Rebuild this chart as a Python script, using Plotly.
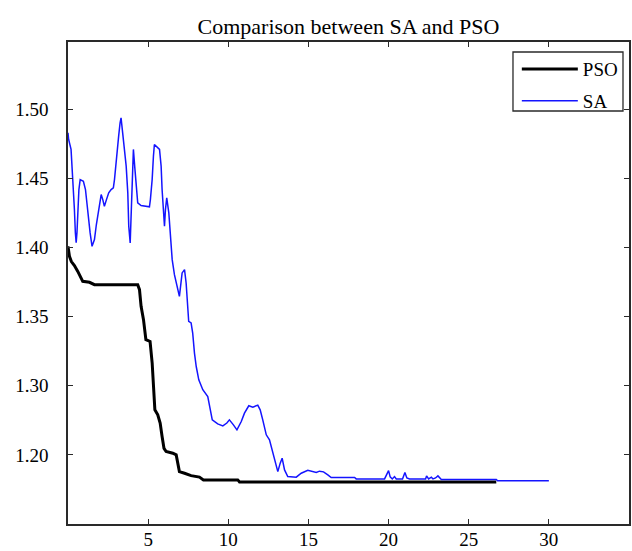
import plotly.graph_objects as go

# PSO curve (best fitness vs. iteration scale)
pso_x = [0.00, 0.09, 0.21, 0.40, 0.61, 0.77, 0.92, 1.34, 1.65, 4.35, 4.46, 4.56, 4.71, 4.86,
         5.12, 5.25, 5.33, 5.42, 5.60, 5.75, 5.87, 5.99, 6.12, 6.54, 6.75, 6.85, 6.95, 7.27,
         7.68, 8.20, 8.45, 10.59, 10.70, 26.72]
pso_y = [1.4008, 1.3936, 1.3898, 1.3869, 1.3827, 1.3789, 1.3755, 1.3748, 1.3731, 1.3731,
         1.3695, 1.3574, 1.3478, 1.3333, 1.3320, 1.3166, 1.2995, 1.2826, 1.2790, 1.2730,
         1.2633, 1.2547, 1.2524, 1.2512, 1.2500, 1.2440, 1.2379, 1.2367, 1.2350, 1.2339,
         1.2319, 1.2319, 1.2304, 1.2304]

# SA curve
sa_x = [0.00, 0.04, 0.19, 0.26, 0.34, 0.40, 0.46, 0.51, 0.56, 0.61, 0.68, 0.76, 0.96, 1.09,
        1.23, 1.38, 1.50, 1.65, 1.77, 1.92, 2.07, 2.17, 2.27, 2.40, 2.54, 2.69, 2.83, 2.90,
        3.04, 3.16, 3.25, 3.31, 3.41, 3.52, 3.63, 3.73, 3.79, 3.88, 3.94, 4.00, 4.08, 4.16,
        4.25, 4.35, 4.56, 5.08, 5.14, 5.25, 5.33, 5.39, 5.71, 5.81, 5.87, 5.96, 6.02, 6.08,
        6.16, 6.29, 6.37, 6.50, 6.64, 6.75, 6.95, 7.12, 7.27, 7.37, 7.47, 7.53, 7.68, 7.78,
        7.89, 8.00, 8.16, 8.41, 8.72, 8.87, 9.00, 9.34, 9.66, 9.91, 10.07, 10.32, 10.54,
        10.81, 11.01, 11.28, 11.53, 11.84, 11.99, 12.15, 12.37, 12.57, 12.74, 12.95, 13.09,
        13.24, 13.36, 13.51, 13.71, 14.24, 14.55, 14.96, 15.27, 15.49, 15.69, 15.94, 16.21,
        16.42, 17.88, 17.98, 19.75, 19.89, 20.00, 20.10, 20.23, 20.37, 20.48, 20.87, 21.02,
        21.14, 21.31, 22.31, 22.37, 22.50, 22.67, 22.77, 22.93, 23.08, 23.29, 26.72, 26.80,
        30.00]
sa_y = [1.4829, 1.4781, 1.4709, 1.4588, 1.4443, 1.4274, 1.4105, 1.4035, 1.4108, 1.4274,
        1.4419, 1.4491, 1.4479, 1.4419, 1.4250, 1.4105, 1.4008, 1.4057, 1.4166, 1.4274,
        1.4383, 1.4346, 1.4298, 1.4346, 1.4395, 1.4419, 1.4431, 1.4491, 1.4636, 1.4805,
        1.4902, 1.4938, 1.4829, 1.4709, 1.4588, 1.4395, 1.4153, 1.4033, 1.4238, 1.4540,
        1.4709, 1.4588, 1.4443, 1.4323, 1.4303, 1.4294, 1.4346, 1.4491, 1.4660, 1.4745,
        1.4709, 1.4588, 1.4419, 1.4274, 1.4153, 1.4274, 1.4359, 1.4250, 1.4105, 1.3912,
        1.3803, 1.3743, 1.3646, 1.3816, 1.3840, 1.3743, 1.3526, 1.3465, 1.3454, 1.3381,
        1.3236, 1.3139, 1.3043, 1.2971, 1.2922, 1.2826, 1.2753, 1.2724, 1.2710, 1.2730,
        1.2753, 1.2717, 1.2681, 1.2741, 1.2802, 1.2855, 1.2845, 1.2860, 1.2826, 1.2753,
        1.2645, 1.2609, 1.2536, 1.2440, 1.2379, 1.2440, 1.2476, 1.2391, 1.2343, 1.2339,
        1.2367, 1.2388, 1.2379, 1.2372, 1.2382, 1.2377, 1.2355, 1.2336, 1.2336, 1.2326,
        1.2326, 1.2355, 1.2386, 1.2341, 1.2326, 1.2343, 1.2326, 1.2326, 1.2372, 1.2333,
        1.2326, 1.2326, 1.2348, 1.2326, 1.2339, 1.2326, 1.2333, 1.2348, 1.2322, 1.2322,
        1.2312, 1.2312]

x_ticks = [5, 10, 15, 20, 25, 30]
y_tickvals = [1.25, 1.30, 1.35, 1.40, 1.45, 1.50]
y_ticktext = ["1.20", "1.30", "1.35", "1.40", "1.45", "1.50"]

serif = "Liberation Serif, Times New Roman, serif"

fig = go.Figure()
fig.add_trace(go.Scatter(x=pso_x, y=pso_y, mode="lines", name="PSO", legendgroup="a",
                         line=dict(color="black", width=3)))
fig.add_trace(go.Scatter(x=sa_x, y=sa_y, mode="lines", name="SA", legendgroup="b",
                         line=dict(color="#1414ff", width=1.5)))

axis_common = dict(showline=True, mirror="ticks", linecolor="#2a2a2a", linewidth=1.5,
                   ticks="inside", ticklen=5, tickwidth=1.3, tickcolor="#2a2a2a",
                   showgrid=False, zeroline=False, automargin=False,
                   tickfont=dict(family=serif, size=19, color="black"))

fig.update_xaxes(range=[0, 35], tickvals=x_ticks, ticklabelstandoff=-3, **axis_common)
fig.update_yaxes(range=[1.20, 1.5486], tickvals=y_tickvals, ticktext=y_ticktext,
                 ticklabelstandoff=14, **axis_common)

# legend frame (matches the boxed legend of the reference)
fig.add_shape(type="rect", xref="paper", yref="paper",
              x0=0.7932, x1=0.9893, y0=0.8568, y1=0.9793,
              line=dict(color="#2a2a2a", width=1.3), fillcolor="white", layer="above")

fig.update_layout(
    width=632, height=551,
    margin=dict(l=68, r=3, t=42, b=27),
    paper_bgcolor="white", plot_bgcolor="white",
    title=dict(text="Comparison between SA and PSO", x=0.5, xref="paper",
               y=0.953, yanchor="middle", xanchor="center",
               font=dict(family=serif, size=22, color="black")),
    showlegend=True,
    legend=dict(x=0.989, y=0.983, xanchor="right", yanchor="top",
                bgcolor="rgba(0,0,0,0)", borderwidth=0,
                font=dict(family=serif, size=19, color="black"),
                traceorder="grouped", tracegroupgap=4, itemwidth=56),
)

fig.write_html("out.html", config={"displayModeBar": False},
               post_script="document.body.style.margin='0px';document.body.style.overflow='hidden';")
